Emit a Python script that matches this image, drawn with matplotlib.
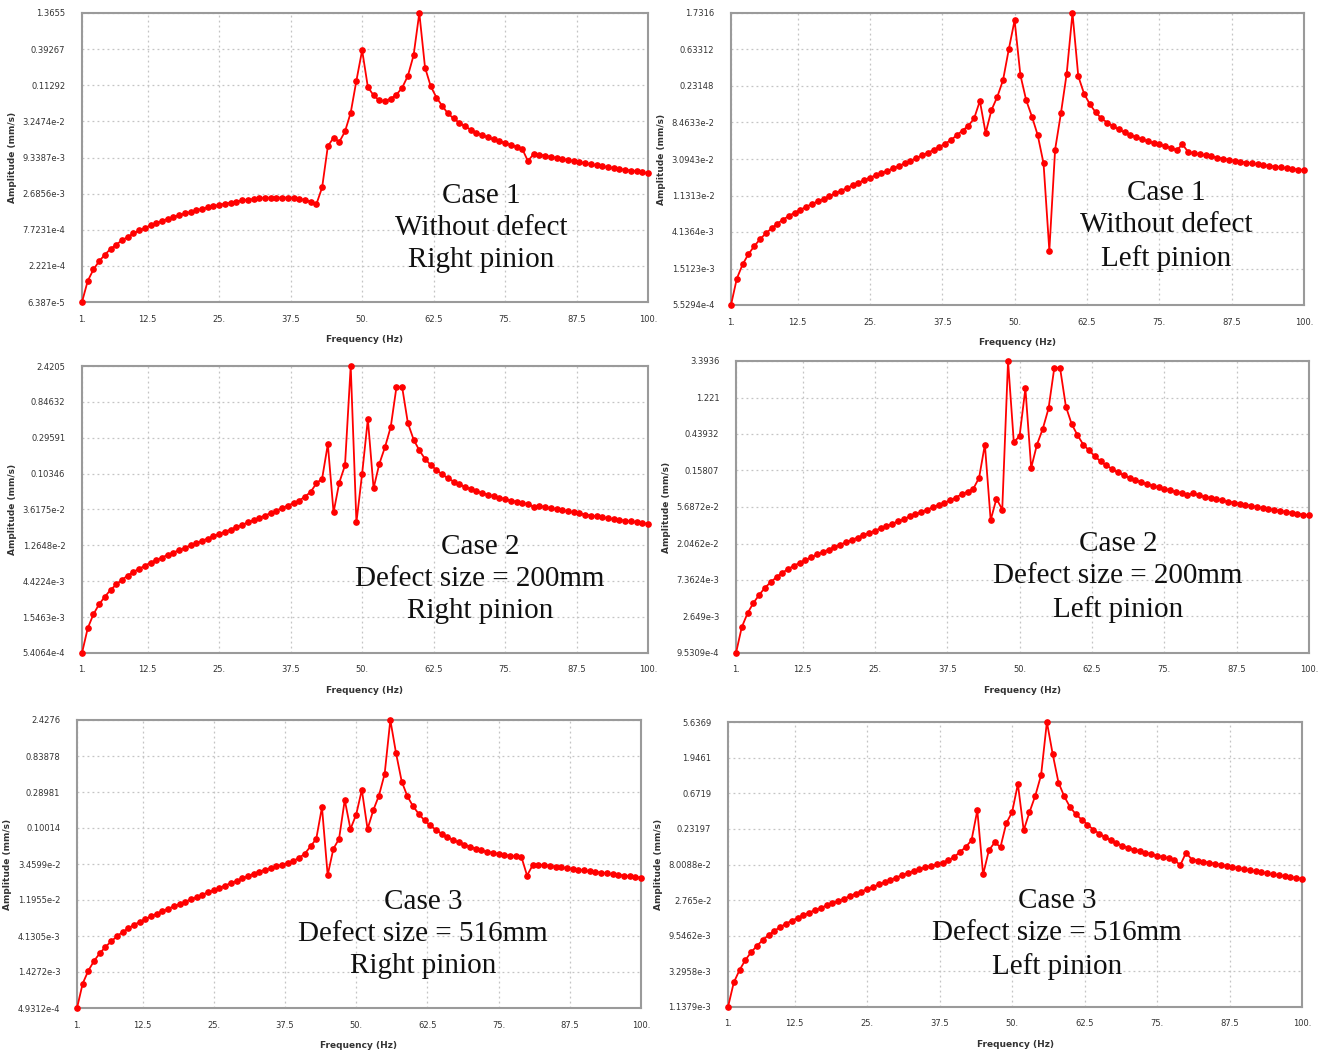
import numpy as np
import matplotlib
matplotlib.use("Agg")
import matplotlib.pyplot as plt

# frequency grid (Hz), 1 Hz steps
freq = np.arange(1, 101)

amp_c1_right = [
    6.387e-5, 1.32e-4, 1.96e-4, 2.61e-4, 3.27e-4, 3.99e-4, 4.63e-4, 5.38e-4, 6.02e-4, 6.82e-4,
    7.53e-4, 8.22e-4, 8.97e-4, 9.66e-4, 1.054e-3, 1.122e-3, 1.21e-3, 1.27e-3, 1.353e-3, 1.422e-3,
    1.514e-3, 1.591e-3, 1.673e-3, 1.736e-3, 1.825e-3, 1.895e-3, 1.966e-3, 2.042e-3, 2.119e-3, 2.173e-3,
    2.228e-3, 2.284e-3, 2.313e-3, 2.342e-3, 2.342e-3, 2.342e-3, 2.342e-3, 2.313e-3, 2.256e-3, 2.146e-3,
    2.042e-3, 1.871e-3, 3.32e-3, 1.374e-2, 1.854e-2, 1.596e-2, 2.291e-2, 4.38e-2, 0.1328, 0.378,
    0.1061, 7.96e-2, 6.69e-2, 6.53e-2, 7.12e-2, 8.17e-2, 0.1035, 0.1562, 0.3177, 1.3655,
    0.208, 0.1088, 7.39e-2, 5.55e-2, 4.27e-2, 3.59e-2, 3.09e-2, 2.73e-2, 2.44e-2, 2.207e-2,
    2.022e-2, 1.877e-2, 1.741e-2, 1.636e-2, 1.537e-2, 1.444e-2, 1.357e-2, 1.259e-2, 8.25e-3, 1.058e-2,
    1.032e-2, 9.94e-3, 9.57e-3, 9.22e-3, 8.89e-3, 8.56e-3, 8.25e-3, 7.94e-3, 7.65e-3, 7.37e-3,
    7.10e-3, 6.92e-3, 6.67e-3, 6.50e-3, 6.27e-3, 6.11e-3, 5.96e-3, 5.81e-3, 5.60e-3, 5.40e-3,
]

amp_c1_left = [
    5.529e-4, 1.141e-3, 1.689e-3, 2.239e-3, 2.793e-3, 3.382e-3, 3.973e-3, 4.575e-3, 5.213e-3, 5.822e-3,
    6.44e-3, 7.05e-3, 7.64e-3, 8.28e-3, 8.97e-3, 9.63e-3, 1.033e-2, 1.109e-2, 1.202e-2, 1.289e-2,
    1.383e-2, 1.499e-2, 1.609e-2, 1.726e-2, 1.852e-2, 1.967e-2, 2.09e-2, 2.242e-2, 2.382e-2, 2.556e-2,
    2.742e-2, 2.942e-2, 3.157e-2, 3.421e-2, 3.671e-2, 3.98e-2, 4.313e-2, 4.722e-2, 5.22e-2, 5.95e-2,
    6.78e-2, 7.73e-2, 9.45e-2, 0.1532, 6.32e-2, 0.1192, 0.1712, 0.2719, 0.6394, 1.416,
    0.313, 0.1564, 9.94e-2, 5.95e-2, 2.742e-2, 2.475e-3, 4.02e-2, 0.1088, 0.326, 1.7316,
    0.3037, 0.1874, 0.140, 0.1122, 9.45e-2, 8.46e-2, 7.65e-2, 6.99e-2, 6.45e-2, 6.01e-2,
    5.66e-2, 5.33e-2, 5.07e-2, 4.82e-2, 4.63e-2, 4.40e-2, 4.23e-2, 3.94e-2, 4.63e-2, 3.75e-2,
    3.63e-2, 3.53e-2, 3.42e-2, 3.32e-2, 3.22e-2, 3.13e-2, 3.03e-2, 2.94e-2, 2.88e-2, 2.80e-2,
    2.74e-2, 2.66e-2, 2.61e-2, 2.56e-2, 2.505e-2, 2.455e-2, 2.406e-2, 2.358e-2, 2.31e-2, 2.265e-2,
]

amp_c2_right = [
    5.4064e-4, 1.116e-3, 1.682e-3, 2.258e-3, 2.814e-3, 3.436e-3, 4.023e-3, 4.612e-3, 5.233e-3, 5.81e-3,
    6.39e-3, 6.95e-3, 7.64e-3, 8.22e-3, 8.85e-3, 9.62e-3, 1.025e-2, 1.103e-2, 1.175e-2, 1.265e-2,
    1.347e-2, 1.45e-2, 1.544e-2, 1.662e-2, 1.771e-2, 1.886e-2, 2.009e-2, 2.162e-2, 2.302e-2, 2.479e-2,
    2.64e-2, 2.84e-2, 3.025e-2, 3.256e-2, 3.505e-2, 3.773e-2, 4.06e-2, 4.37e-2, 4.70e-2, 5.28e-2,
    6.05e-2, 7.79e-2, 8.93e-2, 0.2449, 3.326e-2, 7.96e-2, 0.1317, 2.4205, 2.479e-2, 0.1035,
    0.511, 6.72e-2, 0.1374, 0.2252, 0.4056, 1.302, 1.302, 0.4553, 0.2808, 0.2048,
    0.1592, 0.1331, 0.1149, 0.1013, 9.03e-2, 8.21e-2, 7.55e-2, 7.01e-2, 6.59e-2, 6.18e-2,
    5.87e-2, 5.57e-2, 5.34e-2, 5.12e-2, 4.91e-2, 4.70e-2, 4.56e-2, 4.37e-2, 4.24e-2, 3.93e-2,
    4.02e-2, 3.89e-2, 3.77e-2, 3.66e-2, 3.54e-2, 3.43e-2, 3.33e-2, 3.22e-2, 3.12e-2, 3.03e-2,
    2.96e-2, 2.87e-2, 2.81e-2, 2.72e-2, 2.67e-2, 2.61e-2, 2.56e-2, 2.505e-2, 2.43e-2, 2.376e-2,
]

amp_c2_left = [
    9.531e-4, 1.969e-3, 2.904e-3, 3.867e-3, 4.842e-3, 5.94e-3, 6.92e-3, 7.99e-3, 9.03e-3, 1.000e-2,
    1.097e-2, 1.19e-2, 1.292e-2, 1.387e-2, 1.505e-2, 1.617e-2, 1.72e-2, 1.847e-2, 1.984e-2, 2.109e-2,
    2.266e-2, 2.41e-2, 2.588e-2, 2.753e-2, 2.926e-2, 3.143e-2, 3.342e-2, 3.553e-2, 3.817e-2, 4.058e-2,
    4.36e-2, 4.636e-2, 4.928e-2, 5.294e-2, 5.63e-2, 6.046e-2, 6.43e-2, 6.835e-2, 7.42e-2, 8.13e-2,
    8.73e-2, 9.48e-2, 0.1288, 0.3266, 3.94e-2, 7.19e-2, 5.29e-2, 3.3936, 0.3472, 0.4174,
    1.577, 0.1698, 0.3266, 0.507, 0.8985, 2.823, 2.766, 0.9456, 0.5788, 0.426,
    0.3266, 0.2773, 0.2355, 0.2041, 0.1824, 0.1647, 0.1502, 0.1384, 0.1288, 0.1212,
    0.1139, 0.1083, 0.1029, 9.88e-2, 9.48e-2, 9.10e-2, 8.73e-2, 8.39e-2, 7.97e-2, 8.39e-2,
    7.88e-2, 7.57e-2, 7.34e-2, 7.12e-2, 6.84e-2, 6.63e-2, 6.43e-2, 6.23e-2, 6.05e-2, 5.87e-2,
    5.69e-2, 5.51e-2, 5.40e-2, 5.24e-2, 5.08e-2, 4.98e-2, 4.83e-2, 4.73e-2, 4.59e-2, 4.49e-2,
]

amp_c3_right = [
    4.931e-4, 1.016e-3, 1.489e-3, 1.984e-3, 2.48e-3, 3.002e-3, 3.521e-3, 4.086e-3, 4.642e-3, 5.163e-3,
    5.742e-3, 6.25e-3, 6.81e-3, 7.41e-3, 7.98e-3, 8.6e-3, 9.26e-3, 9.87e-3, 1.064e-2, 1.133e-2,
    1.221e-2, 1.301e-2, 1.402e-2, 1.494e-2, 1.593e-2, 1.716e-2, 1.828e-2, 1.97e-2, 2.10e-2, 2.262e-2,
    2.411e-2, 2.597e-2, 2.768e-2, 2.919e-2, 3.078e-2, 3.246e-2, 3.387e-2, 3.572e-2, 3.807e-2, 4.145e-2,
    4.708e-2, 5.824e-2, 7.28e-2, 0.1855, 2.489e-2, 5.406e-2, 7.28e-2, 0.2294, 9.70e-2, 0.1484,
    0.309, 9.70e-2, 0.1686, 0.2606, 0.4931, 2.4276, 0.9134, 0.3945, 0.2551, 0.1895,
    0.1516, 0.1252, 0.1079, 9.49e-2, 8.45e-2, 7.68e-2, 7.05e-2, 6.55e-2, 6.14e-2, 5.76e-2,
    5.46e-2, 5.18e-2, 4.97e-2, 4.81e-2, 4.66e-2, 4.51e-2, 4.42e-2, 4.33e-2, 4.28e-2, 2.463e-2,
    3.35e-2, 3.39e-2, 3.35e-2, 3.28e-2, 3.21e-2, 3.14e-2, 3.05e-2, 2.98e-2, 2.92e-2, 2.86e-2,
    2.80e-2, 2.74e-2, 2.68e-2, 2.62e-2, 2.57e-2, 2.516e-2, 2.463e-2, 2.411e-2, 2.36e-2, 2.31e-2,
]

amp_c3_left = [
    1.138e-3, 2.37e-3, 3.439e-3, 4.633e-3, 5.852e-3, 7.087e-3, 8.40e-3, 9.75e-3, 1.108e-2, 1.232e-2,
    1.371e-2, 1.492e-2, 1.625e-2, 1.769e-2, 1.905e-2, 2.053e-2, 2.189e-2, 2.357e-2, 2.513e-2, 2.706e-2,
    2.885e-2, 3.108e-2, 3.348e-2, 3.568e-2, 3.845e-2, 4.098e-2, 4.415e-2, 4.706e-2, 5.07e-2, 5.404e-2,
    5.82e-2, 6.20e-2, 6.61e-2, 6.97e-2, 7.36e-2, 7.68e-2, 8.01e-2, 8.45e-2, 9.10e-2, 0.1001,
    0.1162, 0.1349, 0.1651, 0.4032, 5.95e-2, 0.1225, 0.1548, 0.1349, 0.275, 0.3824,
    0.8857, 0.2223, 0.3824, 0.6235, 1.156, 5.6369, 2.164, 0.9243, 0.6106, 0.4437,
    0.3587, 0.3058, 0.2635, 0.2271, 0.2020, 0.1816, 0.1651, 0.1516, 0.1407, 0.1320,
    0.1252, 0.1187, 0.1138, 0.1090, 0.1045, 0.1001, 9.60e-2, 9.20e-2, 7.84e-2, 0.1138,
    9.29e-2, 9.00e-2, 8.72e-2, 8.45e-2, 8.18e-2, 7.92e-2, 7.68e-2, 7.43e-2, 7.20e-2, 6.97e-2,
    6.75e-2, 6.54e-2, 6.34e-2, 6.14e-2, 5.95e-2, 5.82e-2, 5.64e-2, 5.52e-2, 5.35e-2, 5.23e-2,
]

# y tick labels as printed on each panel (bottom to top)
yt_c1_right = ["6.387e-5", "2.221e-4", "7.7231e-4", "2.6856e-3", "9.3387e-3", "3.2474e-2", "0.11292", "0.39267", "1.3655"]
yt_c1_left = ["5.5294e-4", "1.5123e-3", "4.1364e-3", "1.1313e-2", "3.0943e-2", "8.4633e-2", "0.23148", "0.63312", "1.7316"]
yt_c2_right = ["5.4064e-4", "1.5463e-3", "4.4224e-3", "1.2648e-2", "3.6175e-2", "0.10346", "0.29591", "0.84632", "2.4205"]
yt_c2_left = ["9.5309e-4", "2.649e-3", "7.3624e-3", "2.0462e-2", "5.6872e-2", "0.15807", "0.43932", "1.221", "3.3936"]
yt_c3_right = ["4.9312e-4", "1.4272e-3", "4.1305e-3", "1.1955e-2", "3.4599e-2", "0.10014", "0.28981", "0.83878", "2.4276"]
yt_c3_left = ["1.1379e-3", "3.2958e-3", "9.5462e-3", "2.765e-2", "8.0088e-2", "0.23197", "0.6719", "1.9461", "5.6369"]

xt_vals = [1, 12.5, 25, 37.5, 50, 62.5, 75, 87.5, 100]
xt_labels = ["1.", "12.5", "25.", "37.5", "50.", "62.5", "75.", "87.5", "100."]

notes = [
    "Case 1\nWithout defect\nRight pinion",
    "Case 1\nWithout defect\nLeft pinion",
    "Case 2\nDefect size = 200mm\nRight pinion",
    "Case 2\nDefect size = 200mm\nLeft pinion",
    "Case 3\nDefect size = 516mm\nRight pinion",
    "Case 3\nDefect size = 516mm\nLeft pinion",
]

W, H = 1327, 1051
fig = plt.figure(figsize=(W / 100, H / 100), dpi=100)

# axes boxes in pixels: left, top, right, bottom ; note centre in pixels
boxes = [
    (82, 13, 648, 302),
    (731, 13, 1304, 305),
    (82, 366, 648, 653),
    (736, 361, 1309, 653),
    (77, 720, 641, 1008),
    (728, 722, 1302, 1007),
]
note_pos = [(481, 228), (1166, 226), (480, 579), (1118, 577), (423, 934), (1057, 934)]

series = [amp_c1_right, amp_c1_left, amp_c2_right, amp_c2_left, amp_c3_right, amp_c3_left]
yticks = [yt_c1_right, yt_c1_left, yt_c2_right, yt_c2_left, yt_c3_right, yt_c3_left]

for i in range(6):
    l, t, r, b = boxes[i]
    ax = fig.add_axes([l / W, 1 - b / H, (r - l) / W, (b - t) / H])
    ax.plot(freq, series[i], color="#ff0000", lw=1.3, marker="o", ms=3.8,
            clip_on=False, zorder=3)
    ax.set_yscale("log")
    yv = [float(s) for s in yticks[i]]
    ax.set_ylim(yv[0], yv[-1])
    ax.set_yticks(yv)
    ax.set_yticklabels(yticks[i])
    ax.yaxis.set_minor_locator(matplotlib.ticker.NullLocator())
    ax.set_xlim(1, 100)
    ax.set_xticks(xt_vals)
    ax.set_xticklabels(xt_labels)
    ax.grid(True, color="#c4c4c4", linestyle=(0, (1.5, 2.5)), linewidth=0.9)
    ax.tick_params(length=0, labelsize=6, colors="#333333")
    ax.tick_params(axis="y", pad=12)
    ax.tick_params(axis="x", pad=9)
    for sp in ax.spines.values():
        sp.set_color("#9a9a9a")
        sp.set_linewidth(1.5)
    ax.set_xlabel("Frequency (Hz)", fontsize=6.5, fontweight="bold", color="#333333", labelpad=8)
    ax.set_ylabel("Amplitude (mm/s)", fontsize=6.5, fontweight="bold", color="#333333", labelpad=4)

    nx, ny = note_pos[i]
    fig.text(nx / W, 1 - ny / H, notes[i], ha="center", va="center", multialignment="center",
             fontsize=21, family="Liberation Serif", color="#111111", linespacing=1.32)

fig.savefig("out.png", dpi=100)
